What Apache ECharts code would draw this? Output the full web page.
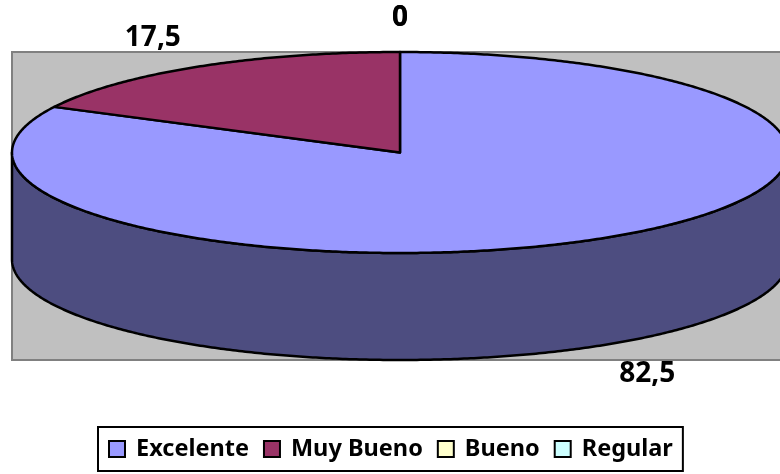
<!DOCTYPE html>
<html><head><meta charset="utf-8">
<script src="https://cdn.jsdelivr.net/npm/echarts@6/dist/echarts.min.js"></script>
<style>html,body{margin:0;padding:0;background:#fff}#c{width:780px;height:474px}</style>
</head><body><div id="c"></div>
<script>
const categories = ['Excelente', 'Muy Bueno', 'Bueno', 'Regular'];
const values = [82.5, 17.5, 0, 0];
const topColors = ['#9999FF', '#993366', '#FFFFCC', '#CCFFFF'];
const sideColors = ['#4D4D80', '#4D1A33', '#808066', '#668080'];

const CX = 400, CY = 152.5, RX = 388, RY = 100.5, DEPTH = 107;
const total = values.reduce((a, b) => a + b, 0);
function pt(t, dy) { return [CX + RX * Math.sin(t), CY - RY * Math.cos(t) + (dy || 0)]; }
function arc(a, b, dy) {
  const n = Math.max(2, Math.ceil(Math.abs(b - a) / (Math.PI / 360)));
  const out = [];
  for (let i = 0; i <= n; i++) out.push(pt(a + (b - a) * i / n, dy));
  return out;
}
function fmt(v) { return String(v).replace('.', ','); }
function renderSlice(params, api) {
  const idx = params.seriesIndex;
  let before = 0;
  for (let i = 0; i < idx; i++) before += values[i];
  const a1 = before / total * 2 * Math.PI;
  const a2 = (before + values[idx]) / total * 2 * Math.PI;
  const children = [];
  const s1 = Math.max(a1, Math.PI / 2), s2 = Math.min(a2, 1.5 * Math.PI);
  if (s2 > s1) {
    const pts = arc(s1, s2, 0).concat(arc(s2, s1, DEPTH));
    children.push({ type: 'polygon', z2: 1, shape: { points: pts },
      style: { fill: sideColors[idx], stroke: '#000', lineWidth: 2.5, lineJoin: 'round' } });
  }
  if (a2 > a1) {
    const pts = [[CX, CY]].concat(arc(a1, a2, 0));
    children.push({ type: 'polygon', z2: 10, shape: { points: pts },
      style: { fill: topColors[idx], stroke: '#000', lineWidth: 2.5, lineJoin: 'round' } });
  }
  const m = (a1 + a2) / 2;
  const front = Math.cos(m) < 0;
  const lx = CX + Math.sin(m) * (RX + 85);
  const ly = CY - Math.cos(m) * (RY + 34) + (front ? DEPTH : 0);
  children.push({ type: 'text', z2: 20, style: { text: fmt(values[idx]), x: lx, y: ly,
    align: 'center', verticalAlign: 'middle', font: 'bold 28px "Noto Sans"', fill: '#000' } });
  return { type: 'group', children };
}

const chart = echarts.init(document.getElementById('c'), null, { renderer: 'canvas' });
chart.setOption({
  animation: false,
  graphic: [{ type: 'rect', z: 0, silent: true,
    shape: { x: 12, y: 52, width: 800, height: 308 },
    style: { fill: '#C0C0C0', stroke: '#808080', lineWidth: 2 } }],
  legend: {
    data: categories, left: 98, top: 427, orient: 'horizontal',
    icon: 'rect', itemWidth: 16, itemHeight: 16, itemGap: 14,
    padding: [10, 10, 10, 10],
    borderColor: '#000', borderWidth: 2,
    itemStyle: { borderColor: '#000', borderWidth: 2 },
    textStyle: { fontFamily: 'Noto Sans', fontWeight: 'bold', fontSize: 23.5, lineHeight: 24,
      color: '#000', padding: [0, 0, 0, 6] },
    selectedMode: false
  },
  series: categories.map((name, i) => ({
    type: 'custom', name, coordinateSystem: 'none', silent: true,
    itemStyle: { color: topColors[i] },
    renderItem: renderSlice, data: [values[i]]
  }))
});
</script></body></html>
